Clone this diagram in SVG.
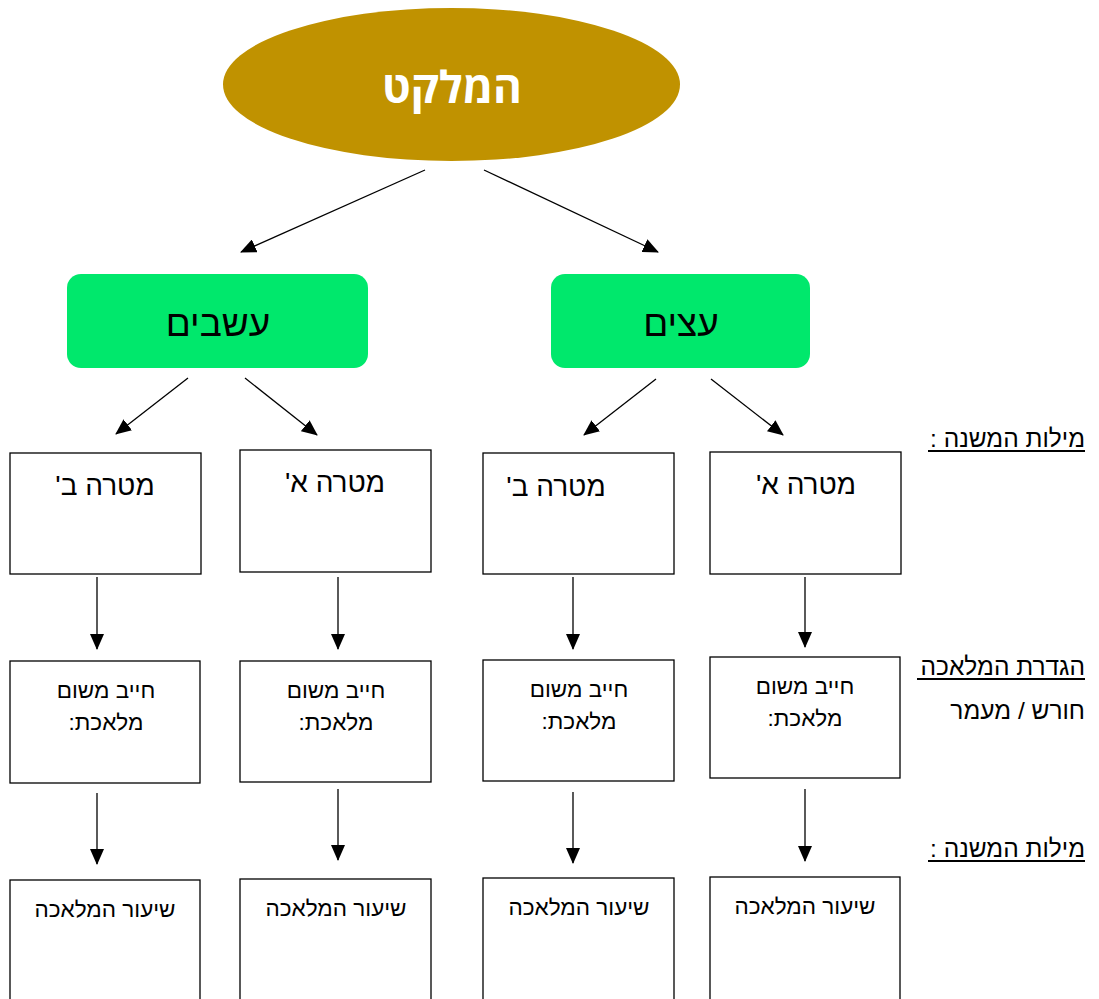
<svg xmlns="http://www.w3.org/2000/svg" width="1099" height="999" viewBox="0 0 1099 999">
<style>
.box{fill:#fff;stroke:#000;stroke-width:1.3}
.grn{fill:#00E86C}
.t{font-family:"Liberation Sans",Arial,"DejaVu Sans",sans-serif;fill:#000;direction:rtl;unicode-bidi:embed}
.c{text-anchor:middle}
.r{text-anchor:start}
.h1{font-size:28px}
.h2{font-size:22.5px}
.lb{font-size:24.5px}
.conn line{stroke:#000;stroke-width:1.3}
</style>
<defs>
<marker id="ah" markerWidth="16" markerHeight="14" refX="15" refY="7" orient="auto" markerUnits="userSpaceOnUse">
<path d="M0,0 L16,7 L0,14 Z" fill="#000"/>
</marker>
</defs>
<rect width="1099" height="999" fill="#fff"/>
<g id="root">
<ellipse cx="451.5" cy="84.5" rx="228.5" ry="76.5" fill="#C09200"/>
<text class="c" x="452" y="103" font-family="'Open Sans','DejaVu Sans',sans-serif" font-weight="bold" font-size="44" fill="#fff" style="direction:rtl">המלקט</text>
</g>
<g id="grass">
<rect class="grn" x="67" y="274" width="301" height="94" rx="14"/>
<text class="t c" x="218" y="336" font-size="37">עשבים</text>
</g>
<g id="trees">
<rect class="grn" x="551" y="274" width="259" height="94" rx="14"/>
<text class="t c" x="681" y="336" font-size="37">עצים</text>
</g>
<g id="g-b">
<rect class="box" x="10" y="453" width="191" height="121"/>
<text class="t c h1" x="105" y="495">מטרה ב'</text>
</g>
<g id="g-a">
<rect class="box" x="240" y="450" width="191" height="122"/>
<text class="t c h1" x="335" y="492">מטרה א'</text>
</g>
<g id="t-b">
<rect class="box" x="483" y="453" width="191" height="121"/>
<text class="t c h1" x="556" y="496">מטרה ב'</text>
</g>
<g id="t-a">
<rect class="box" x="710" y="452" width="191" height="122"/>
<text class="t c h1" x="806" y="494">מטרה א'</text>
</g>
<g id="g-b2">
<rect class="box" x="10" y="661" width="190" height="122"/>
<text class="t c h2" x="106" y="698">חייב משום</text>
<text class="t c h2" x="106" y="730">מלאכת:</text>
</g>
<g id="g-a2">
<rect class="box" x="240" y="661" width="191" height="121"/>
<text class="t c h2" x="336" y="698">חייב משום</text>
<text class="t c h2" x="336" y="730">מלאכת:</text>
</g>
<g id="t-b2">
<rect class="box" x="483" y="660" width="191" height="121"/>
<text class="t c h2" x="579" y="697">חייב משום</text>
<text class="t c h2" x="579" y="729">מלאכת:</text>
</g>
<g id="t-a2">
<rect class="box" x="710" y="657" width="190" height="121"/>
<text class="t c h2" x="805" y="694">חייב משום</text>
<text class="t c h2" x="805" y="726">מלאכת:</text>
</g>
<g id="g-b3">
<rect class="box" x="10" y="880" width="190" height="125"/>
<text class="t c h2" x="105" y="917">שיעור המלאכה</text>
</g>
<g id="g-a3">
<rect class="box" x="240" y="879" width="191" height="126"/>
<text class="t c h2" x="336" y="916">שיעור המלאכה</text>
</g>
<g id="t-b3">
<rect class="box" x="483" y="878" width="191" height="127"/>
<text class="t c h2" x="579" y="915">שיעור המלאכה</text>
</g>
<g id="t-a3">
<rect class="box" x="710" y="877" width="190" height="128"/>
<text class="t c h2" x="805" y="914">שיעור המלאכה</text>
</g>
<g id="labels">
<text class="t r lb" x="1085" y="447">מילות המשנה :</text>
<line x1="928" y1="451" x2="1085" y2="451" stroke="#000" stroke-width="1.8"/>
<text class="t r lb" x="1085" y="675">הגדרת המלאכה</text>
<line x1="917" y1="679" x2="1085" y2="679" stroke="#000" stroke-width="1.8"/>
<text class="t r lb" x="1085" y="719">חורש / מעמר</text>
<text class="t r lb" x="1085" y="857">מילות המשנה :</text>
<line x1="928" y1="861" x2="1085" y2="861" stroke="#000" stroke-width="1.8"/>
</g>
<g class="conn" id="connectors">
<line x1="425" y1="170" x2="241" y2="252" marker-end="url(#ah)"/>
<line x1="484" y1="170" x2="658" y2="252" marker-end="url(#ah)"/>
<line x1="188" y1="378" x2="116" y2="434" marker-end="url(#ah)"/>
<line x1="245" y1="378" x2="317" y2="435" marker-end="url(#ah)"/>
<line x1="656" y1="379" x2="584" y2="435" marker-end="url(#ah)"/>
<line x1="711" y1="379" x2="783" y2="435" marker-end="url(#ah)"/>
<line x1="97" y1="577" x2="97" y2="649" marker-end="url(#ah)"/>
<line x1="338" y1="577" x2="338" y2="649" marker-end="url(#ah)"/>
<line x1="573" y1="577" x2="573" y2="649" marker-end="url(#ah)"/>
<line x1="805" y1="577" x2="805" y2="647" marker-end="url(#ah)"/>
<line x1="97" y1="793" x2="97" y2="864" marker-end="url(#ah)"/>
<line x1="338" y1="789" x2="338" y2="860" marker-end="url(#ah)"/>
<line x1="573" y1="792" x2="573" y2="863" marker-end="url(#ah)"/>
<line x1="805" y1="789" x2="805" y2="861" marker-end="url(#ah)"/>
</g>
</svg>
